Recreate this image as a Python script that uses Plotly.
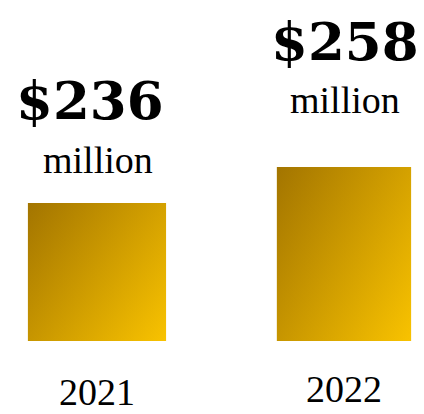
import plotly.graph_objects as go

years = ["2021", "2022"]
revenue = [236, 258]
value_labels = ["$236", "$258"]
unit_label = "million"

positions = list(range(len(years)))
bar_widths = [0.559, 0.543]
Y_MIN, Y_MAX = 151.67, 355.17

fig = go.Figure()
fig.add_trace(go.Bar(
    x=positions, y=revenue,
    width=bar_widths,
    marker=dict(color="#CF9A00", line=dict(width=0)),
    hoverinfo="skip",
))

# diagonal gold gradient: horizontal base layer + translucent vertical layer
for p, v, w in zip(positions, revenue, bar_widths):
    xs = [p - w / 2, p + w / 2, p + w / 2, p - w / 2, p - w / 2]
    ys = [Y_MIN, Y_MIN, v, v, Y_MIN]
    fig.add_trace(go.Scatter(
        x=xs, y=ys, mode="lines", line=dict(width=0), fill="toself",
        fillgradient=dict(type="horizontal",
                          colorscale=[[0, "rgb(171,121,0)"], [1, "rgb(254,196,0)"]]),
        hoverinfo="skip",
    ))
    fig.add_trace(go.Scatter(
        x=xs, y=ys, mode="lines", line=dict(width=0), fill="toself",
        fillgradient=dict(type="vertical",
                          colorscale=[[0, "rgba(240,192,0,0.4)"], [1, "rgba(150,110,0,0.4)"]]),
        hoverinfo="skip",
    ))

big_font = "DejaVu Serif"
small_font = "Liberation Serif"
big_shift = [103, 126]
big_x = [-7, 1]
unit_shift = [43, 67]
year_y = [-0.153, -0.144]
for i, (yr, v) in enumerate(zip(years, revenue)):
    fig.add_annotation(x=positions[i], y=v, text="<b>%s</b>" % value_labels[i], showarrow=False,
                       yanchor="middle", xanchor="center", yshift=big_shift[i], xshift=big_x[i],
                       font=dict(family=big_font, size=53, color="#000000"))
    fig.add_annotation(x=positions[i], y=v, text=unit_label, showarrow=False,
                       yanchor="middle", xanchor="center", yshift=unit_shift[i], xshift=1,
                       font=dict(family=small_font, size=38, color="#000000"))
    fig.add_annotation(x=positions[i], y=year_y[i], yref="paper", text=yr, showarrow=False,
                       yanchor="middle", xanchor="center",
                       font=dict(family=small_font, size=38, color="#000000"))

fig.update_layout(
    width=424, height=414,
    margin=dict(l=0, r=0, t=0, b=81),
    paper_bgcolor="white", plot_bgcolor="white",
    showlegend=False,
    xaxis=dict(range=[-0.3603, 1.3563], showticklabels=False, showgrid=False,
               zeroline=False, showline=False, ticks=""),
    yaxis=dict(range=[Y_MIN, Y_MAX], showticklabels=False, showgrid=False,
               zeroline=False, showline=False, ticks=""),
)
fig.write_html("out.html")
